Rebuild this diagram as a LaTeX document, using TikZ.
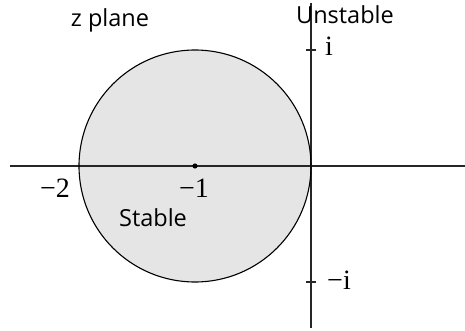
\documentclass[tikz,border=0pt]{standalone}
\usepackage{fontspec}
\setmainfont{Open Sans}
\newfontfamily\numserif{Liberation Serif}
\begin{document}
\begin{tikzpicture}[x=1pt,y=-1pt,
  ax/.style={line width=1.3pt,draw=black!85},
  lbl/.style={inner sep=0pt,font=\fontsize{23.5}{27}\selectfont},
  num/.style={inner sep=0pt,font=\numserif\fontsize{28}{32}\selectfont}]
\useasboundingbox (0,0) rectangle (465,331);
\fill[gray!20] (195,166) circle (116);
\coordinate (xl) at (10,166);
\coordinate (xr) at (465,166);
\coordinate (yt) at (311,3);
\coordinate (yb) at (311,328);
\draw[ax] (xl) -- (xr);
\draw[ax] (yt) -- (yb);
\draw[line width=1.1pt] (195,166) circle (116);
\fill (195,166) circle (2.6);
\draw[ax] (306,50) -- (316,50);
\draw[ax] (306,282) -- (316,282);
\node[lbl] (zp) at (110,20) {z plane};
\node[lbl] (un) at (345,15) {Unstable};
\node[lbl] (st) at (153,218) {Stable};
\node[num] (pi) at (329,46) {i};
\node[num] (mi) at (339,280) {−i};
\node[num] (m2) at (55,188) {−2};
\node[num] (m1) at (194,188) {−1};
\end{tikzpicture}
\end{document}
